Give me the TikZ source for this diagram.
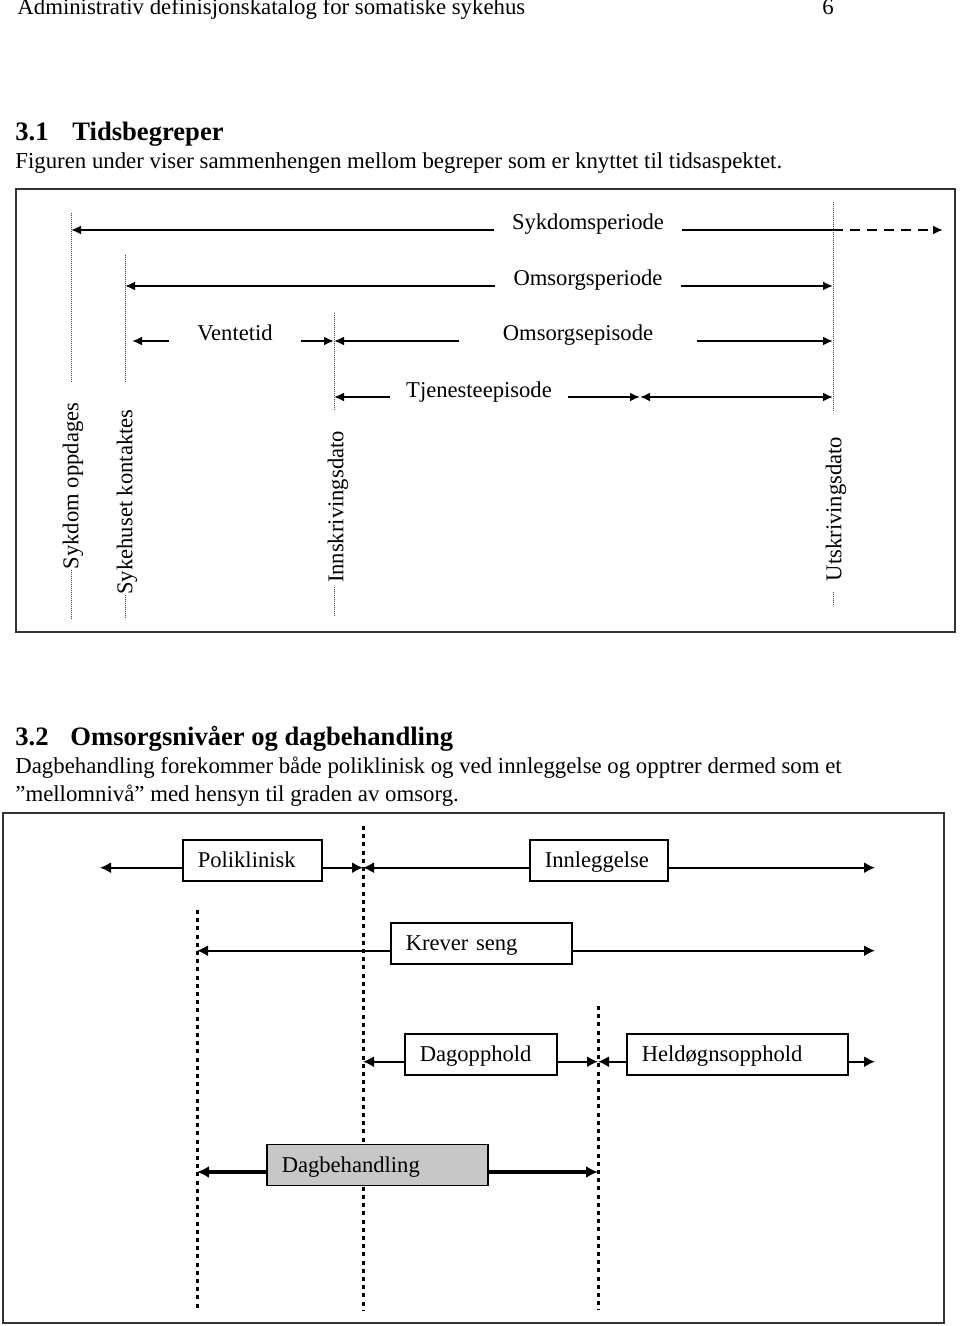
\documentclass[tikz,border=0pt]{standalone}
\usepackage{fontspec}
\setmainfont{Liberation Serif}
\usetikzlibrary{arrows.meta}

\begin{document}
\begin{tikzpicture}[x=0.5pt, y=-0.5pt,
  txt/.style={anchor=base west, inner sep=0, font=\fontsize{11.4}{13}\selectfont},
  head/.style={anchor=base west, inner sep=0, font=\fontsize{13.3}{15}\selectfont\bfseries},
  lbl/.style={anchor=base, inner ysep=0, inner xsep=9pt, font=\fontsize{11.3}{13}\selectfont},
  vlbl/.style={rotate=90, inner sep=0, font=\fontsize{11.3}{13}\selectfont},
  fine/.style={line width=0.5pt, black!75, dash pattern=on 0.5pt off 0.5pt},
  thickdot/.style={line width=1.5pt, dash pattern=on 2pt off 2.1pt},
  arr/.style={line width=1pt, -{Latex[length=5pt,width=4.5pt]}},
  box/.style={draw, line width=0.75pt, fill=white, anchor=base west, inner ysep=0,
    inner xsep=7.5pt, text height=13.85pt, text depth=6.65pt, align=left,
    font=\fontsize{11.3}{13}\selectfont},
  larr/.style={line width=0.9pt, -{Latex[length=5.5pt,width=5.5pt]}},
  barr/.style={line width=1.75pt, -{Latex[length=6pt,width=6pt]}}]
\useasboundingbox (0,0) rectangle (960,1326);
% Page text
\node[txt] (hdr) at (17,15) {Administrativ definisjonskatalog for somatiske sykehus};
\node[txt] (pgno) at (822,15) {6};
\node[head] (secAno) at (15,141) {3.1};
\node[head] (secA) at (72,141) {Tidsbegreper};
\node[txt] (introA) at (15,169) {Figuren under viser sammenhengen mellom begreper som er knyttet til tidsaspektet.};
\node[head] (secBno) at (15,745) {3.2};
\node[head] (secB) at (70,745) {Omsorgsnivåer og dagbehandling};
\node[txt] (introB) at (15,773) {Dagbehandling forekommer både poliklinisk og ved innleggelse og opptrer dermed som et};
\node[txt] (introC) at (15,801) {”mellomnivå” med hensyn til graden av omsorg.};

% Upper figure: frame
\draw[line width=1pt, black!80] (16,189) rectangle (955,632);
% Time points
\coordinate (oppd) at (71,213);
\coordinate (kont) at (125,255);
\coordinate (innskr) at (334,313);
\coordinate (utskr) at (833,202);
\draw[fine] (oppd) -- (71,382);
\draw[fine] (kont) -- (125,382);
\draw[fine] (innskr) -- (334,410);
\draw[fine] (utskr) -- (833,411);
\node[vlbl] (oppdlbl) at (73,486) {Sykdom oppdages};
\node[vlbl] (kontlbl) at (127,502) {Sykehuset kontaktes};
\node[vlbl] (innskrlbl) at (338,507) {Innskrivingsdato};
\node[vlbl] (utskrlbl) at (836,509) {Utskrivingsdato};
\draw[fine] (oppdlbl.west -| oppd) -- (71,618);
\draw[fine] (kontlbl.west -| kont) -- (125,618);
\draw[fine] ([yshift=-2pt]innskrlbl.west -| innskr) -- (334,617);
\draw[fine] ([yshift=-5pt]utskrlbl.west -| utskr) -- (833,605);
% Periods
\node[lbl] (sykper) at (588,230) {Sykdomsperiode};
\node[lbl] (omsper) at (588,286) {Omsorgsperiode};
\node[lbl, inner xsep=14pt] (vent) at (235,341) {Ventetid};
\node[lbl, inner xsep=21.5pt] (omsepi) at (578,341) {Omsorgsepisode};
\node[lbl, inner xsep=8pt] (tjepi) at (479,397) {Tjenesteepisode};
\coordinate (sykend) at (943,230);
\coordinate (tjmid) at (640,397);
\draw[arr] (sykper.base west) -- (oppd |- sykper.base);
\draw[line width=1pt] (sykper.base east) -- (utskr |- sykper.base);
\draw[arr, dash pattern=on 5pt off 3.5pt] (utskr |- sykper.base) -- (sykend);
\draw[arr] (omsper.base west) -- (kont |- omsper.base);
\draw[arr] (omsper.base east) -- (utskr |- omsper.base);
\draw[arr, shorten >=3.5pt] (vent.base west) -- (kont |- vent.base);
\draw[arr] (vent.base east) -- (innskr |- vent.base);
\draw[arr] (omsepi.base west) -- (innskr |- omsepi.base);
\draw[arr] (omsepi.base east) -- (utskr |- omsepi.base);
\draw[arr] (tjepi.base west) -- (innskr |- tjepi.base);
\draw[arr] (tjepi.base east) -- (tjmid);
\draw[line width=1pt, {Latex[length=5pt,width=4.5pt]}-{Latex[length=5pt,width=4.5pt]}] (tjmid) -- (utskr |- tjepi.base);

% Lower figure: frame
\draw[line width=1pt, black!80] (3,813) rectangle (944,1323);
% Level borders
\coordinate (polgr) at (363,826);
\coordinate (sengr) at (197,910);
\coordinate (doggr) at (598,1006);
\coordinate (farL) at (100,867);
\coordinate (farR) at (875,867);
\draw[thickdot] (polgr) -- (363,1310);
\draw[thickdot] (sengr) -- (197,1310);
\draw[thickdot] (doggr) -- (598,1310);
% Levels
\node[box, text width=54.5pt] (polik) at (182,867.7) {Poliklinisk};
\node[box, text width=54pt] (innl) at (529,867.7) {Innleggelse};
\node[box, text width=75.5pt] (krever) at (390,950.7) {Krever seng};
\node[box, text width=61pt] (dagopp) at (404,1061.7) {Dagopphold};
\node[box, text width=95.5pt] (heldogn) at (626,1061.7) {Heldøgnsopphold};
\node[box, text width=95.5pt, fill=black!22] (dagbeh) at (266,1172) {Dagbehandling};
\draw[larr] (polik.base west) -- (farL |- polik.base);
\draw[larr] (polik.base east) -- (polgr |- polik.base);
\draw[larr] (innl.base west) -- (polgr |- innl.base);
\draw[larr] (innl.base east) -- (farR |- innl.base);
\draw[larr] (krever.base west) -- (sengr |- krever.base);
\draw[larr] (krever.base east) -- (farR |- krever.base);
\draw[larr] (dagopp.base west) -- (polgr |- dagopp.base);
\draw[larr] (dagopp.base east) -- (doggr |- dagopp.base);
\draw[larr] (heldogn.base west) -- (doggr |- heldogn.base);
\draw[larr] (heldogn.base east) -- (farR |- heldogn.base);
\draw[barr] (dagbeh.base west) -- (sengr |- dagbeh.base);
\draw[barr] (dagbeh.base east) -- (doggr |- dagbeh.base);
\end{tikzpicture}
\end{document}
